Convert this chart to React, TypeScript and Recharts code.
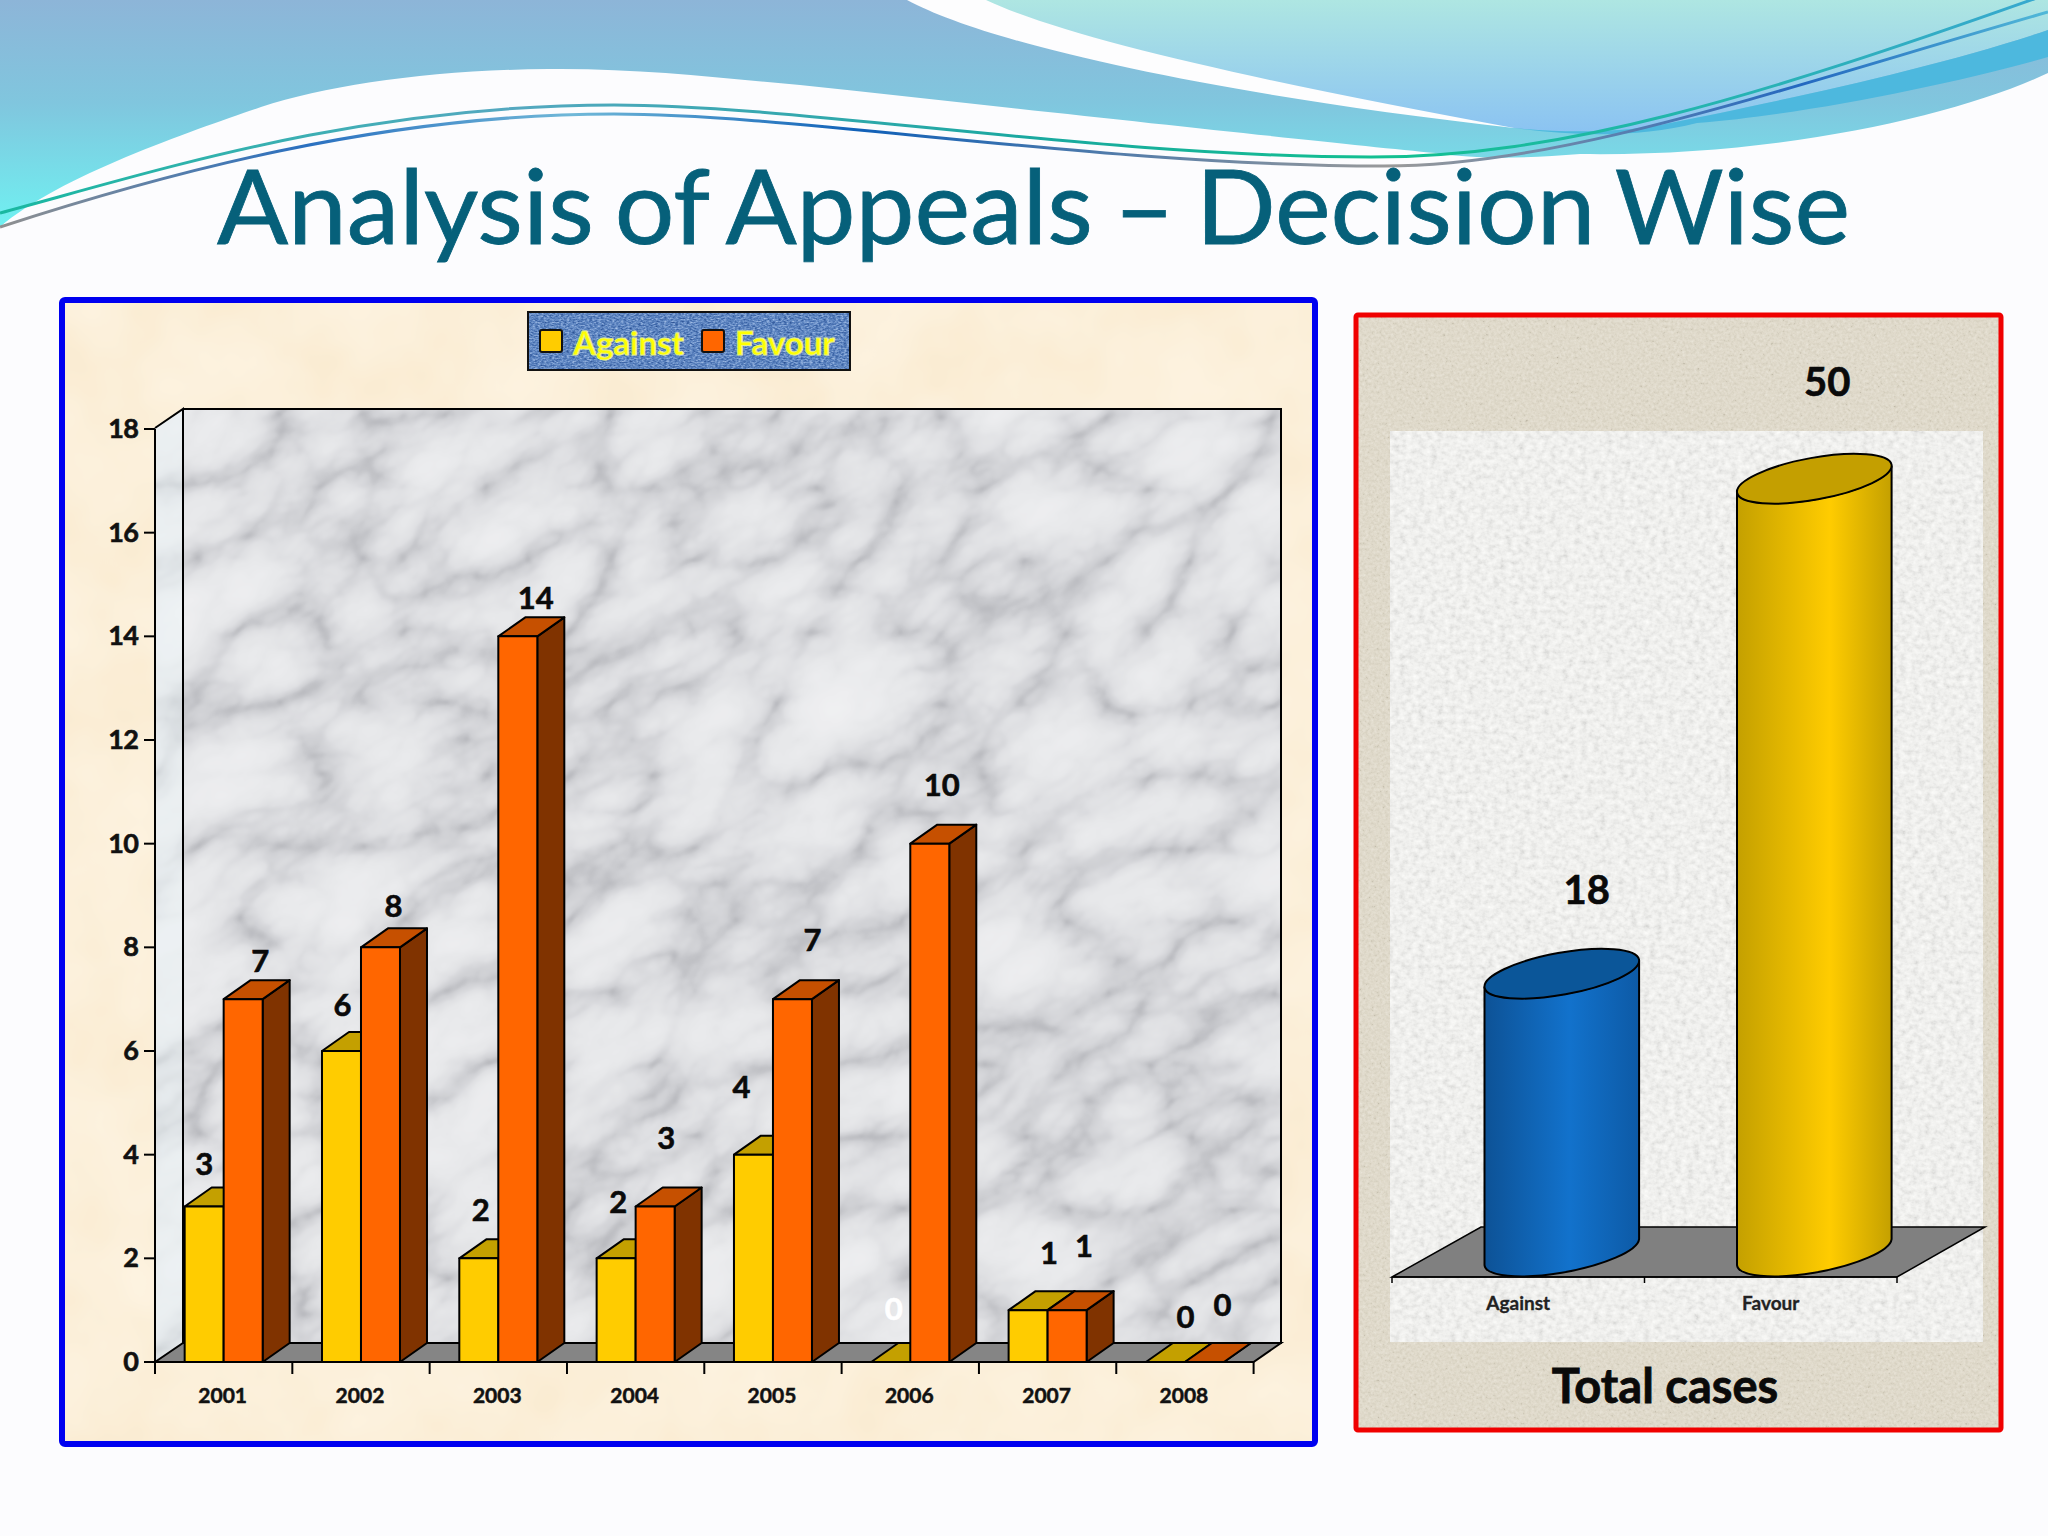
import React from "react";
import { BarChart, Bar, XAxis, YAxis, LabelList, Legend, Cell } from "recharts";

const years = ["2001", "2002", "2003", "2004", "2005", "2006", "2007", "2008"];
const against = [3, 6, 2, 2, 4, 0, 1, 0];
const favour = [7, 8, 14, 3, 7, 10, 1, 0];
const yTicks = [0, 2, 4, 6, 8, 10, 12, 14, 16, 18];

const totalNames = ["Against", "Favour"];
const totalValues = [18, 50];

const yearData = years.map((year, i) => ({ year, against: against[i], favour: favour[i] }));
const totalData = totalNames.map((name, i) => ({ name, total: totalValues[i] }));

// hand placed data labels, the original has them nudged around
const againstNudge = [[0, -44], [1, -47], [2, -49], [2, -57], [-12, -69], [3, -54], [21, -58], [20, -46]];
const favourNudge = [[17, -39], [13, -42], [18, -39], [11, -70], [20, -60], [12, -60], [17, -65], [18, -58]];
const totalNudge = [[25, -110], [13, -123]];

const FONT = "Lato, Carlito, sans-serif";
const DEPTH_X = 27;
const DEPTH_Y = 19;

function hexChannels(hex: string) {
  return [1, 3, 5].map((p) => (parseInt(hex.slice(p, p + 2), 16) / 255).toFixed(3));
}

// noise filter, the noise value is mapped on a list of colours
function Noise({ id, freq, octaves = 3, seed = 1, type = "fractalNoise", colors, blur = 0 }: {
  id: string; freq: string; octaves?: number; seed?: number; type?: string; colors: string[]; blur?: number;
}) {
  const ch = colors.map(hexChannels);
  return (
    <filter id={id} x="0" y="0" width="100%" height="100%" colorInterpolationFilters="sRGB">
      <feTurbulence type={type as "fractalNoise"} baseFrequency={freq} numOctaves={octaves} seed={seed} />
      <feColorMatrix type="matrix" values="1 0 0 0 0 1 0 0 0 0 1 0 0 0 0 0 0 0 0 1" />
      {blur > 0 && <feGaussianBlur stdDeviation={blur} />}
      <feComponentTransfer>
        <feFuncR type="table" tableValues={ch.map((c) => c[0]).join(" ")} />
        <feFuncG type="table" tableValues={ch.map((c) => c[1]).join(" ")} />
        <feFuncB type="table" tableValues={ch.map((c) => c[2]).join(" ")} />
      </feComponentTransfer>
    </filter>
  );
}

function Backdrop() {
  return (
    <svg width={2048} height={1536} style={{ position: "absolute", left: 0, top: 0 }}>
      <defs>
        <linearGradient id="waveLeft" gradientUnits="userSpaceOnUse" x1="0" y1="0" x2="0" y2="230">
          <stop offset="0%" stopColor="#8DB5D8" />
          <stop offset="45%" stopColor="#80C6DE" />
          <stop offset="100%" stopColor="#6FF2F2" />
        </linearGradient>
        <linearGradient id="waveRight" gradientUnits="userSpaceOnUse" x1="0" y1="0" x2="0" y2="135">
          <stop offset="0%" stopColor="#AEE6E2" />
          <stop offset="100%" stopColor="#8AC2F2" />
        </linearGradient>
        <linearGradient id="lineA" gradientUnits="userSpaceOnUse" x1="0" y1="0" x2="2048" y2="0">
          <stop offset="0%" stopColor="#18B8A0" />
          <stop offset="25%" stopColor="#55A8C0" />
          <stop offset="50%" stopColor="#1AA8A0" />
          <stop offset="68%" stopColor="#12C090" />
          <stop offset="100%" stopColor="#38A8D0" />
        </linearGradient>
        <linearGradient id="lineB" gradientUnits="userSpaceOnUse" x1="0" y1="0" x2="2048" y2="0">
          <stop offset="0%" stopColor="#909090" />
          <stop offset="15%" stopColor="#2A70C0" />
          <stop offset="28%" stopColor="#70B8D8" />
          <stop offset="42%" stopColor="#1060B8" />
          <stop offset="68%" stopColor="#9A9A9A" />
          <stop offset="88%" stopColor="#2468C0" />
          <stop offset="100%" stopColor="#50B8D8" />
        </linearGradient>
        <Noise id="cream" freq="0.012" octaves={3} seed={4} colors={["#FAEBD0", "#FBEDD4", "#FCF0DA", "#FDF2DE", "#FEF4E2"]} />
        <Noise id="marble" type="turbulence" freq="0.007 0.012" octaves={5} seed={11} blur={1.5}
          colors={["#B4B5BA", "#CFD0D4", "#DFE0E3", "#E7E8EA", "#EBECEE", "#EEEEF0", "#F0F1F2"]} />
        <Noise id="tan" freq="0.35" octaves={3} seed={7} colors={["#B5AE9C", "#D8D2C2", "#E0DACB", "#E5E0D3", "#ECE8DC"]} />
        <Noise id="paper" freq="0.16 0.2" octaves={3} seed={3} colors={["#CFCFCD", "#E4E4E2", "#F0F0EE", "#F7F7F5", "#FFFFFD"]} />
        <clipPath id="backWall"><rect x={183} y={409} width={1098} height={934} /></clipPath>
        <clipPath id="sideWall"><polygon points="155,428 183,409 183,1343 155,1362" /></clipPath>
      </defs>

      <rect width={2048} height={1536} fill="#FCFCFE" />

      <path d="M0 0 H2048 V73 C1960 115 1780 157 1580 154 C1530 158 1480 160 1436 153 C1330 143 1050 112 800 85 C720 78 640 68 548 69 C430 70 330 85 261 107 C200 128 60 175 0 227 Z" fill="url(#waveLeft)" />
      <path d="M907 0 C990 45 1220 95 1514 128 L1514 0 Z" fill="#FDFDFE" />
      <path d="M986 0 C1070 40 1280 85 1514 128 C1580 135 1640 130 1670 123 C1760 105 1930 70 2048 30 V0 Z" fill="url(#waveRight)" />
      <path d="M1514 128 C1580 135 1640 130 1670 123 C1760 105 1930 70 2048 30 V57 C1950 85 1800 115 1697 123 C1640 138 1570 136 1514 128 Z" fill="#4DB8DE" />
      <path d="M0 213 C160 170 360 105 614 105 C800 105 1100 157 1371 157 C1560 157 1750 100 2048 -6" fill="none" stroke="url(#lineA)" strokeWidth={3} />
      <path d="M0 227 C160 175 380 114 614 114 C800 114 1100 166 1384 166 C1560 166 1760 95 2048 12" fill="none" stroke="url(#lineB)" strokeWidth={3} />

      <text x={217} y={244} fontFamily={FONT} fontSize={103} fill="#06607A" stroke="#06607A" strokeWidth={0.8}
        wordSpacing={-6} textLength={1633} lengthAdjust="spacingAndGlyphs">
        Analysis of Appeals – Decision Wise
      </text>

      {/* left panel */}
      <rect x={62} y={300} width={1253} height={1144} filter="url(#cream)" />
      <g clipPath="url(#backWall)">
        <g transform="rotate(-30 732 876)">
          <rect x={-68} y={76} width={1600} height={1600} filter="url(#marble)" />
        </g>
      </g>
      <g clipPath="url(#sideWall)">
        <g transform="rotate(-30 732 876)">
          <rect x={-68} y={76} width={1600} height={1600} filter="url(#marble)" />
        </g>
        <rect x={155} y={409} width={28} height={953} fill="#EEF6F8" opacity={0.45} />
      </g>
      <polygon points="155,1362 183,1343 1281,1343 1253.6,1362" fill="#858585" stroke="#000" strokeWidth={2} />
      <polygon points="155,428 183,409 1281,409 1281,1343 183,1343 183,409" fill="none" stroke="#000" strokeWidth={2} />
      <line x1={183} y1={409} x2={183} y2={1343} stroke="#000" strokeWidth={2} />
      <rect x={62} y={300} width={1253} height={1144} rx={3} fill="none" stroke="#0000F0" strokeWidth={6} />

      {/* right panel */}
      <rect x={1356} y={315} width={645} height={1115} filter="url(#tan)" />
      <rect x={1390} y={431} width={593} height={911} filter="url(#paper)" />
      <polygon points="1392,1277 1481,1227 1985,1227 1897,1277" fill="#808080" stroke="#000" strokeWidth={1.5} />
      <rect x={1356} y={315} width={645} height={1115} rx={2} fill="none" stroke="#F00000" strokeWidth={5} />
      <text x={1665} y={1403} textAnchor="middle" fontFamily={FONT} fontSize={47} fontWeight={700} fill="#0A0A0A" stroke="#0A0A0A" strokeWidth={0.8}>Total cases</text>
    </svg>
  );
}

function Box3D(props: any) {
  const { x, y, width, height, fill, top, side } = props;
  const line = { stroke: "#000", strokeWidth: 2, strokeLinejoin: "round" as const };
  return (
    <g>
      <polygon points={`${x + width},${y} ${x + width + DEPTH_X},${y - DEPTH_Y} ${x + width + DEPTH_X},${y + height - DEPTH_Y} ${x + width},${y + height}`} fill={side} {...line} />
      <polygon points={`${x},${y} ${x + DEPTH_X},${y - DEPTH_Y} ${x + width + DEPTH_X},${y - DEPTH_Y} ${x + width},${y}`} fill={top} {...line} />
      <rect x={x} y={y} width={width} height={height} fill={fill} {...line} />
    </g>
  );
}

function nudgedLabel(nudge: number[][], fontSize: number, colorAt?: (i: number) => string) {
  return (props: any) => {
    const { x, y, width, value, index } = props;
    const [dx, dy] = nudge[index];
    const color = colorAt ? colorAt(index) : "#0A0A0A";
    return (
      <text x={x + width / 2 + dx} y={y + dy} textAnchor="middle" dominantBaseline="central"
        fontFamily={FONT} fontWeight={700} fontSize={fontSize} fill={color} stroke={color} strokeWidth={0.6}>
        {value}
      </text>
    );
  };
}

function YearTick(props: any) {
  const { x, y, payload, index } = props;
  const band = 137.33;
  return (
    <g>
      <line x1={x - band / 2} y1={y} x2={x - band / 2} y2={y + 12} stroke="#000" strokeWidth={2} />
      {index === years.length - 1 && <line x1={x + band / 2} y1={y} x2={x + band / 2} y2={y + 12} stroke="#000" strokeWidth={2} />}
      <text x={x - 1} y={y + 32} textAnchor="middle" dominantBaseline="central" fontFamily={FONT} fontWeight={700} fontSize={21}
        fill="#111" stroke="#111" strokeWidth={0.5}>
        {payload.value}
      </text>
    </g>
  );
}

function ValueTick(props: any) {
  const { x, y, payload } = props;
  return (
    <text x={x} y={y - 1.5} textAnchor="end" dominantBaseline="central" fontFamily={FONT} fontWeight={700} fontSize={27}
      letterSpacing={-0.8} fill="#111" stroke="#111" strokeWidth={0.6}>
      {payload.value}
    </text>
  );
}

function JeansLegend({ payload }: any) {
  return (
    <div style={{ position: "relative", width: 324, height: 60, boxSizing: "border-box" }}>
      <svg width={324} height={60} style={{ position: "absolute", left: 0, top: 0 }}>
        <defs>
          <Noise id="denim" freq="0.35 0.7" octaves={2} seed={5} colors={["#1E3D78", "#3A62A4", "#5E86C2", "#8FAEDC", "#C4D6F0"]} />
        </defs>
        <rect width={324} height={60} filter="url(#denim)" />
        <rect x={1} y={1} width={322} height={58} fill="none" stroke="#111" strokeWidth={2} />
        {(payload || []).map((item: any, i: number) => {
          const left = i === 0 ? 13 : 175;
          return (
            <g key={item.value}>
              <rect x={left} y={19} width={22} height={22} rx={2} fill={item.color} stroke="#111" strokeWidth={2} />
              <text x={left + 33} y={31} dominantBaseline="central" fontFamily={FONT} fontWeight={700} fontSize={33}
                fill="#FFFF00" stroke="#E6F08A" strokeWidth={1}>
                {item.value}
              </text>
            </g>
          );
        })}
      </svg>
    </div>
  );
}

function YearsChart() {
  return (
    <div style={{ position: "absolute", left: 60, top: 298 }}>
      <BarChart width={1258} height={1148} data={yearData} barGap={0} barCategoryGap="21.6%"
        margin={{ left: 35, right: 64.4, top: 131, bottom: 34 }}>
        <XAxis dataKey="year" height={50} tick={<YearTick />} tickLine={false} interval={0} tickSize={0} tickMargin={0}
          axisLine={{ stroke: "#000", strokeWidth: 2 }} />
        <YAxis width={60} domain={[0, 18]} ticks={yTicks} interval={0} tickSize={11} tickMargin={6}
          tickLine={{ stroke: "#000", strokeWidth: 2 }} axisLine={{ stroke: "#000", strokeWidth: 2 }}
          tick={<ValueTick />} />
        <Legend layout="horizontal" verticalAlign="middle" align="center" content={<JeansLegend />}
          wrapperStyle={{ left: 467, top: 13, width: 324 }} />
        <Bar dataKey="against" name="Against" fill="#FFCC00" isAnimationActive={false}
          shape={(p: any) => <Box3D {...p} top="#C4A000" side="#806600" />}>
          <LabelList dataKey="against" content={nudgedLabel(againstNudge, 31, (i) => (i === 5 ? "#FFFFFF" : "#0A0A0A"))} />
        </Bar>
        <Bar dataKey="favour" name="Favour" fill="#FF6600" isAnimationActive={false}
          shape={(p: any) => <Box3D {...p} top="#C65000" side="#803300" />}>
          <LabelList dataKey="favour" content={nudgedLabel(favourNudge, 31)} />
        </Bar>
      </BarChart>
    </div>
  );
}

const cylinderTops = ["#0B5699", "#C49F00"];

// oblique cylinder, y is the lowest point of the top ellipse
function Cylinder(props: any) {
  const { x, y, width, height, fill, index } = props;
  const shift = 43.5;
  const a = width * 0.5078;
  const b = width * 0.1355;
  const half = width * 0.1613;
  const off = width * 0.084;
  const left = x + shift;
  const right = left + width;
  const cx = left + width / 2;
  const cyTop = y - half;
  const cyBottom = y + height - half;
  const ellipse = `rotate(-10.3 ${cx} ${cyTop})`;
  const body = `M${left} ${cyTop + off} L${left} ${cyBottom + off} A${a} ${b} -10.3 0 0 ${right} ${cyBottom - off} L${right} ${cyTop - off} A${a} ${b} -10.3 0 1 ${left} ${cyTop + off} Z`;
  return (
    <g>
      <path d={body} fill={fill} stroke="#000" strokeWidth={2} />
      <ellipse cx={cx} cy={cyTop} rx={a} ry={b} transform={ellipse} fill={cylinderTops[index]} stroke="#000" strokeWidth={2} />
    </g>
  );
}

function TotalTick(props: any) {
  const { x, y, payload, index } = props;
  const band = 252.5;
  return (
    <g>
      <line x1={x - band / 2} y1={y} x2={x - band / 2} y2={y + 6} stroke="#000" strokeWidth={1.5} />
      {index === totalNames.length - 1 && <line x1={x + band / 2} y1={y} x2={x + band / 2} y2={y + 6} stroke="#000" strokeWidth={1.5} />}
      <text x={x} y={y + 25} textAnchor="middle" dominantBaseline="central" fontFamily={FONT} fontWeight={700} fontSize={19}
        fill="#222" stroke="#222" strokeWidth={0.3}>
        {payload.value}
      </text>
    </g>
  );
}

function TotalsChart() {
  return (
    <div style={{ position: "absolute", left: 1354, top: 313 }}>
      <BarChart width={650} height={1120} data={totalData} barSize={154.6}
        margin={{ left: 38, right: 107, top: 36, bottom: 106 }}>
        <defs>
          <linearGradient id="cylBlue" x1="0" y1="0" x2="1" y2="0">
            <stop offset="0%" stopColor="#0D5296" />
            <stop offset="55%" stopColor="#1272CC" />
            <stop offset="100%" stopColor="#0D5AA6" />
          </linearGradient>
          <linearGradient id="cylGold" x1="0" y1="0" x2="1" y2="0">
            <stop offset="0%" stopColor="#C4A000" />
            <stop offset="60%" stopColor="#FFCC00" />
            <stop offset="100%" stopColor="#C4A000" />
          </linearGradient>
        </defs>
        <XAxis dataKey="name" height={50} tick={<TotalTick />} tickLine={false} tickSize={0} tickMargin={0} interval={0}
          axisLine={{ stroke: "#000", strokeWidth: 1.5 }} />
        <YAxis hide domain={[0, 60]} />
        <Bar dataKey="total" isAnimationActive={false} shape={(p: any) => <Cylinder {...p} />}>
          <Cell fill="url(#cylBlue)" />
          <Cell fill="url(#cylGold)" />
          <LabelList dataKey="total" content={(p: any) => nudgedLabel(totalNudge, 40)({ ...p, x: p.x + 43.5 })} />
        </Bar>
      </BarChart>
    </div>
  );
}

export default function App() {
  return (
    <div style={{ position: "absolute", left: 0, top: 0, width: 2048, height: 1536, overflow: "hidden" }}>
      <Backdrop />
      <YearsChart />
      <TotalsChart />
    </div>
  );
}
